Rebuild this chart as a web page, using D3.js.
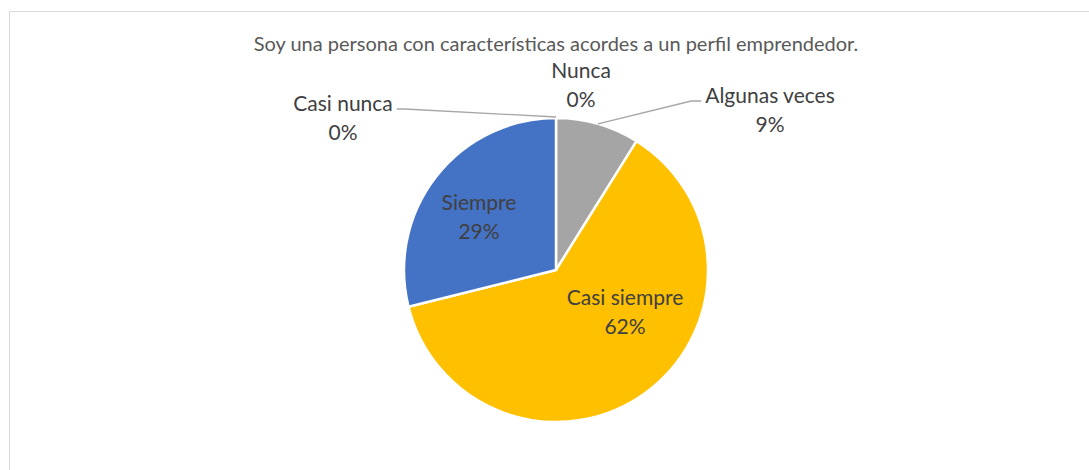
<!DOCTYPE html>
<html>
<head>
<meta charset="utf-8">
<style>
  body { margin: 0; background: #fff; }
  svg { display: block; font-family: "Lato", "Open Sans", sans-serif; }
</style>
</head>
<body>
<div id="chart"></div>
<script src="https://cdn.jsdelivr.net/npm/d3@7"></script>
<script>
// data (45 answers)
var title = "Soy una persona con características acordes a un perfil emprendedor.";
var categories = ["Nunca", "Algunas veces", "Casi siempre", "Siempre", "Casi nunca"];
var counts = [0, 4, 28, 13, 0];
var colors = ["#5B9BD5", "#A5A5A5", "#FFC000", "#4472C4", "#ED7D31"];

// where each label sits, relative to the pie centre (in px)
var labelPos = {
  "Nunca":         { dx: 25,  dy: -192, lead: "none" },
  "Algunas veces": { dx: 214, dy: -167, lead: "right" },
  "Casi siempre":  { dx: 69,  dy: 35,   lead: "none" },
  "Siempre":       { dx: -77, dy: -60,  lead: "none" },
  "Casi nunca":    { dx: -213, dy: -159, lead: "left" }
};

var width = 1089, height = 470;
var cx = 556, cy = 270, radius = 152;
var lineGap = 29;

var svg = d3.select("#chart").append("svg")
    .attr("width", width)
    .attr("height", height);

// chart area border
svg.append("rect")
    .attr("x", 9.5).attr("y", 11.5)
    .attr("width", width + 10).attr("height", height + 10)
    .attr("fill", "#fff")
    .attr("stroke", "#d9d9d9")
    .attr("stroke-width", 1);

svg.append("text")
    .attr("x", cx).attr("y", 51)
    .attr("text-anchor", "middle")
    .attr("fill", "#595959")
    .style("font-size", "20px")
    .text(title);

var data = categories.map(function (c, i) { return { name: c, v: counts[i], color: colors[i] }; });
var total = d3.sum(counts);

var pie = d3.pie().sort(null).value(function (d) { return d.v; });
var arcs = pie(data);

var arc = d3.arc().innerRadius(0).outerRadius(radius);
var outer = d3.arc().innerRadius(radius).outerRadius(radius);

var g = svg.append("g").attr("transform", "translate(" + cx + "," + cy + ")");

g.selectAll("path.slice")
  .data(arcs.filter(function (d) { return d.data.v > 0; }))
  .enter().append("path")
    .attr("class", "slice")
    .attr("d", arc)
    .attr("fill", function (d) { return d.data.color; })
    .attr("stroke", "#fff")
    .attr("stroke-width", 2.5)
    .attr("stroke-linejoin", "round");

// labels
var labels = g.selectAll("g.lab")
  .data(arcs)
  .enter().append("g")
    .attr("class", "lab");

labels.each(function (d) {
  var p = labelPos[d.data.name];
  var sel = d3.select(this);
  var t1 = sel.append("text")
      .attr("x", p.dx).attr("y", p.dy)
      .attr("text-anchor", "middle")
      .attr("fill", "#404040")
      .style("font-size", "21px")
      .text(d.data.name);
  sel.append("text")
      .attr("x", p.dx).attr("y", p.dy + lineGap)
      .attr("text-anchor", "middle")
      .attr("fill", "#404040")
      .style("font-size", "21px")
      .text(Math.round(d.data.v / total * 100) + "%");

  var w = t1.node().getComputedTextLength();
  var edge = outer.centroid(d);
  if (p.lead === "left") {
    var xr = p.dx + w / 2 + 4;
    sel.insert("path", "text")
        .attr("d", d3.line()([[xr, p.dy - 2], [xr + 8, p.dy - 2], [edge[0], edge[1] - 1]]))
        .attr("fill", "none")
        .attr("stroke", "#a6a6a6")
        .attr("stroke-width", 1.3);
  } else if (p.lead === "right") {
    var xl = p.dx - w / 2 - 4;
    sel.insert("path", "text")
        .attr("d", d3.line()([[xl, p.dy - 2], [xl - 10, p.dy - 2], [edge[0], edge[1]]]))
        .attr("fill", "none")
        .attr("stroke", "#a6a6a6")
        .attr("stroke-width", 1.3);
  }
});
</script>
</body>
</html>
